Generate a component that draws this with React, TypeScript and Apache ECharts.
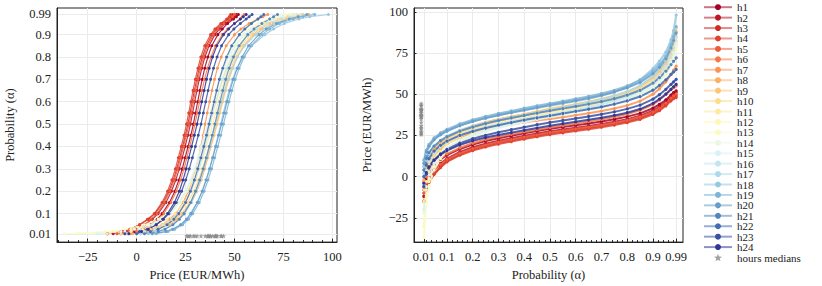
import React, { useEffect, useRef } from "react";
import * as echarts from "echarts";

// Probability levels (alpha) at which each hour's price quantiles were read
const ALPHAS = [0.01, 0.02, 0.03, 0.05, 0.075, 0.1, 0.15, 0.2, 0.25, 0.3, 0.35, 0.4, 0.45, 0.5, 0.55, 0.6, 0.65, 0.7, 0.75, 0.8, 0.85, 0.9, 0.925, 0.95, 0.97, 0.98, 0.99];

const HOURS = ["h1", "h2", "h3", "h4", "h5", "h6", "h7", "h8", "h9", "h10", "h11", "h12", "h13", "h14", "h15", "h16", "h17", "h18", "h19", "h20", "h21", "h22", "h23", "h24"];

const COLORS = ["#a50026", "#bb1526", "#d02a27", "#e04230", "#ec5d3c", "#f67848", "#fa9555", "#fdb063", "#fec678", "#fedc8c", "#feeba0", "#fff8b5", "#f8fccb", "#ebf7e4", "#dbf1f7", "#c4e5f0", "#addaea", "#96c8e0", "#7eb5d5", "#689ec9", "#5386bd", "#426db0", "#3a51a3", "#313695"];

// Price quantiles (EUR/MWh) per hour, one value per alpha level above
const h1 = [-8, -1, 3, 7, 10.5, 13, 16.8, 19.5, 21.6, 23.3, 24.8, 26.3, 27.7, 29, 30.1, 31.2, 32.3, 33.5, 34.8, 36.4, 38.4, 41.5, 43.8, 46.5, 49.5, 51, 52];
const h2 = [-12, -5, -0.5, 4, 8, 11, 15, 17.8, 20, 21.8, 23.3, 24.8, 26.2, 27.5, 28.6, 29.7, 30.8, 32, 33.3, 34.9, 37, 40, 42.3, 45.3, 48.5, 50, 51];
const h3 = [-15, -8, -3.5, 1.5, 6, 9.5, 13.5, 16.5, 18.7, 20.5, 22, 23.5, 24.9, 26.2, 27.3, 28.4, 29.5, 30.7, 32, 33.6, 35.6, 38.6, 40.8, 43.8, 46.8, 48.3, 49];
const h4 = [-15, -7, -3, 1.5, 5.5, 9, 13, 15.8, 18, 19.8, 21.3, 22.8, 24.2, 25.5, 26.6, 27.7, 28.8, 30, 31.3, 32.8, 34.8, 37.8, 40, 43, 46, 47.3, 48];
const h5 = [-10, -4, 0, 4, 7.5, 10.5, 14.2, 17, 19.2, 21, 22.5, 24, 25.4, 26.8, 27.9, 29, 30.1, 31.3, 32.6, 34.2, 36.3, 39.3, 41.6, 44.6, 47.6, 49, 50];
const h6 = [-6, 0, 3.5, 7.5, 11, 13.8, 17.5, 20.3, 22.5, 24.2, 25.7, 27.1, 28.5, 29.8, 31, 32.2, 33.4, 34.7, 36.2, 38, 40.3, 43.8, 46.5, 50, 53, 54, 55];
const h7 = [-3, 4, 8, 13, 17, 20, 23.8, 26.5, 28.5, 30.2, 31.6, 32.8, 34, 35, 36.1, 37.3, 38.5, 39.8, 41.3, 43.2, 45.8, 50, 53.3, 57.5, 62, 64.5, 67];
const h8 = [-2, 6, 11, 16.5, 21, 24, 28, 30.8, 33, 34.8, 36.4, 37.9, 39.4, 40.8, 42.2, 43.6, 45.1, 46.8, 48.8, 51.3, 54.8, 60.5, 64.5, 70, 77, 82, 88];
const h9 = [-5, 4, 9, 15, 19.5, 23, 27.3, 30.3, 32.7, 34.6, 36.3, 37.9, 39.6, 41.2, 42.6, 44, 45.5, 47.2, 49.1, 51.5, 54.6, 59.5, 63, 68, 74, 78.5, 85];
const h10 = [-8, 2, 7, 13, 18, 21.5, 26, 29.2, 31.6, 33.6, 35.4, 37.1, 38.8, 40.4, 41.8, 43.2, 44.7, 46.3, 48.2, 50.5, 53.5, 58.3, 62, 66.5, 72.5, 77, 82];
const h11 = [-15, -3, 3, 10, 15.5, 19.5, 24.3, 27.6, 30.1, 32.1, 33.9, 35.6, 37.3, 38.9, 40.3, 41.7, 43.2, 44.8, 46.7, 49, 52, 56.8, 60.3, 65, 70.5, 75, 80];
const h12 = [-30, -12, -3, 6, 12.5, 17, 22.3, 25.9, 28.6, 30.8, 32.7, 34.5, 36.2, 37.8, 39.2, 40.6, 42.1, 43.7, 45.5, 47.7, 50.6, 55, 58.5, 63, 68.5, 72.5, 78];
const h13 = [-37, -16, -6, 4, 11, 15.8, 21.3, 25, 27.7, 29.9, 31.8, 33.5, 35.2, 36.8, 38.2, 39.6, 41, 42.6, 44.4, 46.6, 49.4, 53.8, 57.2, 61.8, 67.5, 71.5, 76];
const h14 = [-22, -8, -1, 6.5, 12.5, 16.5, 21.5, 24.8, 27.4, 29.5, 31.3, 33, 34.6, 36.2, 37.6, 39, 40.5, 42.1, 44, 46.3, 49.3, 54, 57.7, 62.5, 68.5, 73, 79];
const h15 = [-20, -6, 1, 8, 13.5, 17.3, 22, 25.3, 27.8, 29.9, 31.7, 33.4, 35, 36.5, 37.9, 39.4, 40.9, 42.6, 44.6, 47, 50.2, 55.2, 59, 64, 70.5, 75, 81];
const h16 = [-5, 4, 9, 14, 18, 21, 25, 27.9, 30.1, 31.9, 33.5, 35, 36.3, 37.6, 39, 40.5, 42.1, 43.9, 46, 48.6, 52, 57.3, 61.5, 67, 73.5, 78, 84];
const h17 = [2, 10, 14, 18.5, 22, 24.5, 28, 30.6, 32.6, 34.3, 35.9, 37.4, 38.9, 40.4, 41.9, 43.4, 45, 46.8, 48.9, 51.6, 55.2, 60.8, 65, 70.5, 77.5, 82.5, 90];
const h18 = [6, 14, 18, 22.5, 25.5, 27.5, 31, 33.5, 35.5, 37.3, 38.8, 40.3, 41.7, 43, 44.3, 45.7, 47.2, 49, 51.3, 54.5, 58.8, 65.5, 70, 75.5, 83, 88.5, 98];
const h19 = [10, 16, 19.5, 23.5, 26.5, 28.7, 32, 34.5, 36.5, 38.3, 39.9, 41.5, 43, 44.4, 45.8, 47.2, 48.7, 50.4, 52.4, 55, 58.5, 64, 68, 73, 80, 85, 91];
const h20 = [8, 15, 18.5, 22.5, 25.5, 27.8, 31, 33.5, 35.5, 37.3, 38.9, 40.4, 41.9, 43.4, 44.8, 46.2, 47.7, 49.4, 51.4, 53.9, 57.2, 62.5, 66.3, 71.5, 78, 82.5, 87];
const h21 = [4, 11, 14.5, 18.5, 21.8, 24.2, 27.6, 30.1, 32.2, 34, 35.6, 37.1, 38.6, 40, 41.3, 42.6, 44, 45.5, 47.3, 49.5, 52.4, 56.8, 60, 64, 68, 70, 72];
const h22 = [0, 7, 11, 15.5, 19, 21.5, 25, 27.5, 29.5, 31.2, 32.8, 34.3, 35.7, 37, 38.3, 39.6, 40.9, 42.3, 44, 46, 48.6, 52.5, 55.3, 58.7, 62, 63.5, 65];
const h23 = [-6, 1.5, 5.5, 10, 13.8, 16.5, 20.3, 23, 25.1, 26.9, 28.5, 30, 31.5, 32.9, 34.1, 35.3, 36.5, 37.8, 39.3, 41.1, 43.4, 47, 49.7, 53, 56, 57.5, 59];
const h24 = [-4, 2.5, 6, 10, 13.3, 15.8, 19.3, 21.8, 23.7, 25.3, 26.7, 28.1, 29.5, 30.9, 32.1, 33.3, 34.5, 35.7, 37.1, 38.8, 41, 44.4, 47, 50, 53, 54.5, 56];

const QUANTILES = [h1, h2, h3, h4, h5, h6, h7, h8, h9, h10, h11, h12, h13, h14, h15, h16, h17, h18, h19, h20, h21, h22, h23, h24];

const PRICE_TICKS = [-25, 0, 25, 50, 75, 100];
const PRICE_MINOR = [-40, -35, -30, -20, -15, -10, -5, 5, 10, 15, 20, 30, 35, 40, 45, 55, 60, 65, 70, 80, 85, 90, 95];
const PROB_TICKS = [0.01, 0.1, 0.2, 0.3, 0.4, 0.5, 0.6, 0.7, 0.8, 0.9, 0.99];
const PROB_MINOR = [0.02, 0.04, 0.06, 0.08, 0.12, 0.14, 0.16, 0.18, 0.22, 0.24, 0.26, 0.28, 0.32, 0.34, 0.36, 0.38, 0.42, 0.44, 0.46, 0.48, 0.52, 0.54, 0.56, 0.58, 0.62, 0.64, 0.66, 0.68, 0.72, 0.74, 0.76, 0.78, 0.82, 0.84, 0.86, 0.88, 0.92, 0.94, 0.96, 0.98];

const MEDIAN_NAME = "hours medians";
const STAR = "path://M12 1 L14.9 8.6 L23 9 L16.7 14.1 L18.8 22 L12 17.6 L5.2 22 L7.3 14.1 L1 9 L9.1 8.6 Z";

const FONT = "Liberation Serif";
const INK = "#222";
const GRIDC = "#ebebeb";

const fmtNum = (v: number) => String(v).replace("-", "\u2212");

export default function App() {
  const ref = useRef<HTMLDivElement>(null);

  useEffect(() => {
    if (!ref.current) return;
    const chart = echarts.init(ref.current, undefined, { renderer: "svg" });
    const medIdx = ALPHAS.indexOf(0.5);
    const medians = QUANTILES.map((q) => q[medIdx]);

    const labelStyle = { fontFamily: FONT, fontSize: 12.5, color: INK };
    const nameStyle = { fontFamily: FONT, fontSize: 12.5, color: INK };

    const series: any[] = [];
    QUANTILES.forEach((q, i) => {
      const common = {
        type: "line",
        name: HOURS[i],
        color: COLORS[i],
        symbol: "circle",
        showSymbol: true,
        itemStyle: { color: COLORS[i] },
        emphasis: { disabled: true },
        z: 3,
      };
      series.push({
        ...common,
        symbolSize: 3,
        lineStyle: { width: 1.2, opacity: 0.85 },
        xAxisIndex: 0,
        yAxisIndex: 0,
        data: q.map((p, k) => [p, ALPHAS[k]]),
      });
      series.push({
        ...common,
        symbolSize: 3.2,
        lineStyle: { width: 2, opacity: 0.85 },
        xAxisIndex: 1,
        yAxisIndex: 1,
        data: q.map((p, k) => [ALPHAS[k], p]),
      });
    });
    const starCommon = {
      type: "scatter",
      name: MEDIAN_NAME,
      symbol: STAR,
      symbolSize: 5,
      itemStyle: { color: "#8a8a8a" },
      emphasis: { disabled: true },
      z: 4,
    };
    series.push({ ...starCommon, xAxisIndex: 0, yAxisIndex: 0, data: medians.map((m) => [m, 0]) });
    series.push({ ...starCommon, xAxisIndex: 1, yAxisIndex: 1, data: medians.map((m) => [0, m]) });

    const axisLine = { show: true, onZero: false, lineStyle: { color: INK } };

    const option: any = {
      animation: false,
      backgroundColor: "#fff",
      grid: [
        { left: 57, top: 8, width: 280, height: 241, show: true, borderColor: INK, borderWidth: 1, backgroundColor: "transparent" },
        { left: 414, top: 8, width: 269, height: 240, show: true, borderColor: INK, borderWidth: 1, backgroundColor: "transparent" },
      ],
      xAxis: [
        {
          gridIndex: 0, type: "value", min: -40.7, max: 102.4, position: "bottom",
          name: "Price (EUR/MWh)", nameLocation: "middle", nameGap: 22, nameTextStyle: nameStyle,
          axisLine,
          axisTick: { show: true, inside: true, length: 3.5, customValues: PRICE_TICKS, lineStyle: { color: INK } },
          axisLabel: { customValues: PRICE_TICKS, formatter: fmtNum, margin: 8, ...labelStyle },
          splitLine: { show: true, lineStyle: { color: GRIDC } },
        },
        {
          gridIndex: 1, type: "value", min: -0.028, max: 1.0165, position: "bottom",
          name: "Probability (\u03b1)", nameLocation: "middle", nameGap: 22, nameTextStyle: nameStyle,
          axisLine,
          axisTick: { show: true, inside: true, length: 3.5, customValues: PROB_TICKS, lineStyle: { color: INK } },
          axisLabel: { customValues: PROB_TICKS, formatter: (v: number) => String(v), margin: 8, ...labelStyle },
          splitLine: { show: true, lineStyle: { color: GRIDC } },
        },
        {
          gridIndex: 0, type: "value", min: -40.7, max: 102.4, position: "bottom",
          axisLine: { show: false, onZero: false },
          axisTick: { show: true, inside: true, length: 2, customValues: PRICE_MINOR, lineStyle: { color: INK } },
          axisLabel: { show: false },
          splitLine: { show: false },
        },
        {
          gridIndex: 1, type: "value", min: -0.028, max: 1.0165, position: "bottom",
          axisLine: { show: false, onZero: false },
          axisTick: { show: true, inside: true, length: 2, customValues: PROB_MINOR, lineStyle: { color: INK } },
          axisLabel: { show: false },
          splitLine: { show: false },
        },
      ],
      yAxis: [
        {
          gridIndex: 0, type: "value", min: -0.0273, max: 1.019, position: "left",
          name: "Probability (\u03b1)", nameLocation: "middle", nameGap: 41, nameRotate: 90, nameTextStyle: nameStyle,
          axisLine,
          axisTick: { show: false, customValues: PROB_TICKS },
          axisLabel: { customValues: PROB_TICKS, formatter: (v: number) => String(v), margin: 6, ...labelStyle },
          splitLine: { show: true, lineStyle: { color: GRIDC } },
        },
        {
          gridIndex: 1, type: "value", min: -39.7, max: 102.3, position: "left",
          name: "Price (EUR/MWh)", nameLocation: "middle", nameGap: 41, nameRotate: 90, nameTextStyle: nameStyle,
          axisLine,
          axisTick: { show: true, inside: true, length: 2.5, customValues: PRICE_TICKS, lineStyle: { color: INK } },
          axisLabel: { customValues: PRICE_TICKS, formatter: fmtNum, margin: 6, ...labelStyle },
          splitLine: { show: true, lineStyle: { color: GRIDC } },
        },
      ],
      legend: {
        orient: "vertical",
        left: 703,
        top: 1.7,
        height: 320,
        itemWidth: 28,
        itemHeight: 7.5,
        itemGap: -0.57,
        padding: 0,
        selectedMode: false,
        lineStyle: { width: 2, opacity: 0.55 },
        textStyle: { fontFamily: FONT, fontSize: 11, color: INK },
        data: [...HOURS.map((h) => ({ name: h })), { name: MEDIAN_NAME, icon: STAR }],
      },
      series,
    };

    chart.setOption(option);
    return () => chart.dispose();
  }, []);

  return (
    <div
      ref={ref}
      style={{ position: "absolute", left: 0, top: 0, width: 822, height: 286, background: "#fff" }}
    />
  );
}
